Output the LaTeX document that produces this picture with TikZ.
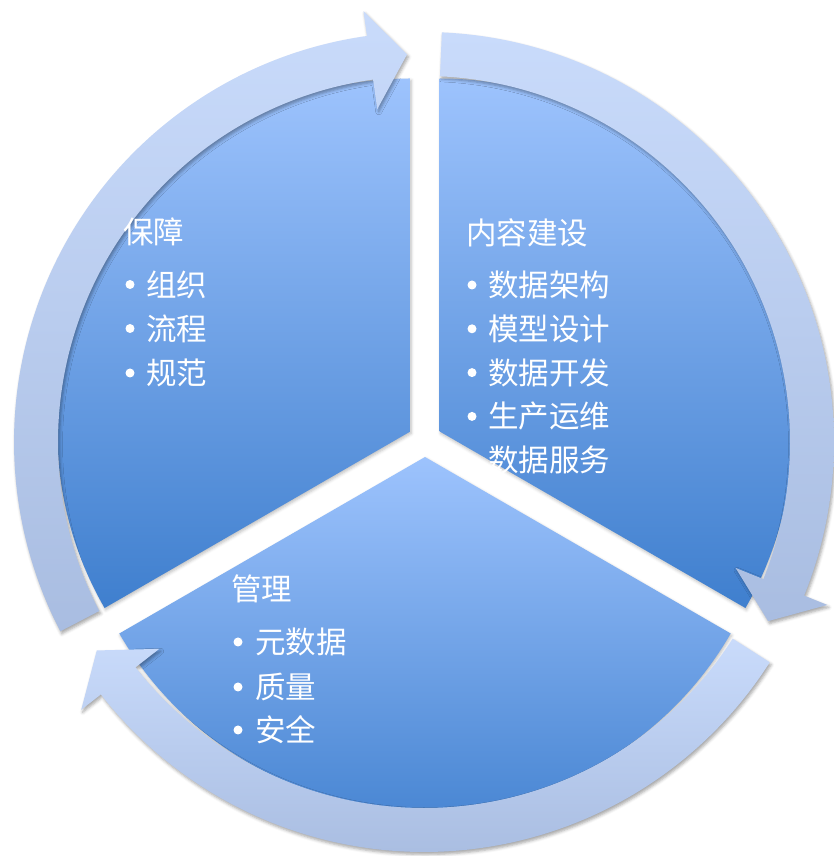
\documentclass[tikz,border=0pt]{standalone}
\usepackage{fontspec}
\newfontfamily\cjk{Noto Sans CJK SC}
\usetikzlibrary{shadows.blur}
\definecolor{secTop}{HTML}{9DC3FD}
\definecolor{secBot}{HTML}{3F7FCE}
\definecolor{ringTop}{HTML}{C9DBFB}
\definecolor{ringBot}{HTML}{A9BDE1}
\tikzset{
  sector/.style={top color=secTop, bottom color=secBot,
    blur shadow={shadow xshift=1pt, shadow yshift=-2pt, shadow blur radius=3pt, shadow opacity=25}},
  ringarrow/.style={top color=ringTop, bottom color=ringBot,
    blur shadow={shadow xshift=1.5pt, shadow yshift=-2.5pt, shadow blur radius=3pt, shadow opacity=35}},
  headtext/.style={anchor=west, text=white, inner sep=0pt, font=\cjk\fontsize{30.5}{30.5}\selectfont},
  itemtext/.style={headtext},
  dot/.style={circle, fill=white, minimum size=9pt, inner sep=0pt},
}
\newcommand\cyclearrow[3]{%
  \path[ringarrow] (#1:410) arc[start angle=#1, end angle=#2, radius=410]
    -- (#2:435) -- (#3:388) -- (#2:336) -- (#2:366)
    arc[start angle=#2, end angle=#1, radius=366] -- cycle;}
\begin{document}
\begin{tikzpicture}[x=1pt,y=1pt]
\useasboundingbox (0,0) rectangle (834,856);
% sectors (exploded pie, centre (425,416))
\path[sector] (439.7,424.5) -- ++(-30:353) arc[start angle=-30, end angle=90, radius=353] -- cycle;
\path[sector] (410.3,424.5) -- ++(90:353) arc[start angle=90, end angle=210, radius=353] -- cycle;
\path[sector] (425,399) -- ++(210:353) arc[start angle=210, end angle=330, radius=353] -- cycle;
% ring arrows
\begin{scope}[shift={(424,414)}]
  \cyclearrow{207.5}{98}{92.5}
  \cyclearrow{87.5}{-22}{-27.5}
  \cyclearrow{-32.5}{-142}{-147.5}
\end{scope}
% texts: left sector
\node[headtext] (bz) at (123,624) {保障};
\node[dot] (d1) at (130,571.5) {};
\node[itemtext] (zz) at (146,571.5) {组织};
\node[dot] (d2) at (130,527.5) {};
\node[itemtext] (lc) at (146,527.5) {流程};
\node[dot] (d3) at (130,483) {};
\node[itemtext] (gf) at (146,483) {规范};
% texts: right sector
\node[headtext] (nr) at (466,623) {内容建设};
\node[dot] (e1) at (472,571) {};
\node[itemtext] (s1) at (488,571) {数据架构};
\node[dot] (e2) at (472,527.2) {};
\node[itemtext] (s2) at (488,527.2) {模型设计};
\node[dot] (e3) at (472,483.4) {};
\node[itemtext] (s3) at (488,483.4) {数据开发};
\node[dot] (e4) at (472,439.6) {};
\node[itemtext] (s4) at (488,439.6) {生产运维};
\node[dot] (e5) at (472,395.8) {};
\node[itemtext] (s5) at (488,395.8) {数据服务};
% texts: bottom sector
\node[headtext] (gl) at (231,267) {管理};
\node[dot] (f1) at (238,214) {};
\node[itemtext] (y1) at (255,214) {元数据};
\node[dot] (f2) at (238,169) {};
\node[itemtext] (y2) at (255,169) {质量};
\node[dot] (f3) at (238,126) {};
\node[itemtext] (y3) at (255,126) {安全};
\end{tikzpicture}
\end{document}
